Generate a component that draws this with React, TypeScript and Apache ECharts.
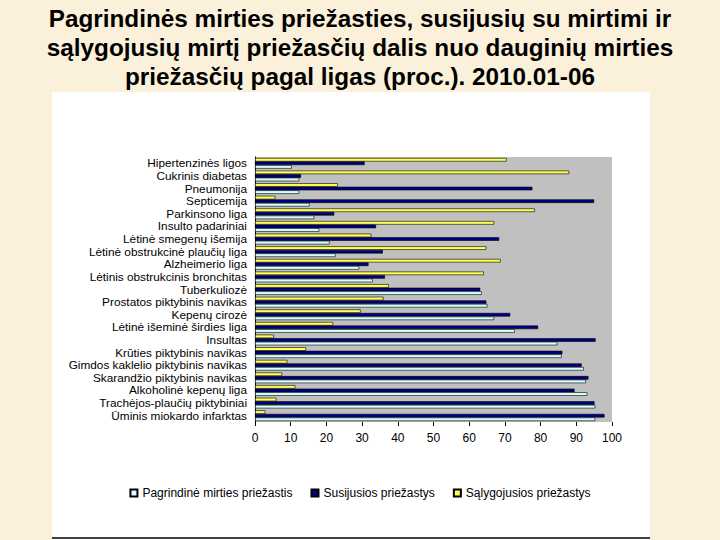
import React, { useEffect, useRef } from "react";
import * as echarts from "echarts";

const categories = [
  "Hipertenzinės ligos",
  "Cukrinis diabetas",
  "Pneumonija",
  "Septicemija",
  "Parkinsono liga",
  "Insulto padariniai",
  "Lėtinė smegenų išemija",
  "Lėtinė obstrukcinė plaučių liga",
  "Alzheimerio liga",
  "Lėtinis obstrukcinis bronchitas",
  "Tuberkuliozė",
  "Prostatos piktybinis navikas",
  "Kepenų cirozė",
  "Lėtinė išeminė širdies liga",
  "Insultas",
  "Krūties piktybinis navikas",
  "Gimdos kaklelio piktybinis navikas",
  "Skarandžio piktybinis navikas",
  "Alkoholinė kepenų liga",
  "Trachėjos-plaučių piktybiniai",
  "Ūminis miokardo infarktas",
];

const pagrindine = [10.3, 12.4, 12.4, 15.3, 16.6, 18, 20.9, 22.6, 29.2, 33, 63.5, 65.1, 67, 72.8, 84.7, 85.9, 92.1, 92.7, 93.1, 95.3, 95.3];
const susijusios = [30.7, 12.9, 77.7, 95, 22.2, 33.9, 68.4, 35.8, 31.8, 36.4, 63.1, 64.8, 71.5, 79.3, 95.4, 86.1, 91.5, 93.4, 89.5, 95.1, 97.9];
const salygojusios = [70.5, 88, 23.2, 5.7, 78.4, 67, 32.6, 64.8, 68.8, 64.1, 37.5, 36, 29.6, 21.9, 5.3, 14.3, 9.1, 7.6, 11.3, 6, 2.9];

const seriesNames = ["Pagrindinė mirties priežastis", "Susijusios priežastys", "Sąlygojusios priežastys"];

const titleText =
  "Pagrindinės mirties priežasties, susijusių su mirtimi ir\nsąlygojusių mirtį priežasčių dalis nuo dauginių mirties\npriežasčių pagal ligas (proc.). 2010.01-06";

export default function App() {
  const ref = useRef<HTMLDivElement>(null);
  useEffect(() => {
    if (!ref.current) return;
    const chart = echarts.init(ref.current, null, { renderer: "svg" });
    const font = "Liberation Sans, Arial, sans-serif";
    const barStyle = (color: string) => ({ color, borderColor: "#000", borderWidth: 0.6 });
    chart.setOption({
      animation: false,
      backgroundColor: "#FBF0D9",
      graphic: [
        { type: "rect", shape: { x: 52, y: 92, width: 598, height: 448 }, style: { fill: "#FFFFFF" }, z: -10 },
        { type: "line", shape: { x1: 52, y1: 538, x2: 650, y2: 538 }, style: { stroke: "#000", lineWidth: 1.5 }, z: -9 },
      ],
      title: {
        text: titleText,
        left: "center",
        top: -1,
        textStyle: { fontFamily: font, fontWeight: "bold", fontSize: 24.3, lineHeight: 29, color: "#000" },
      },
      legend: {
        data: seriesNames,
        left: "center",
        top: 482,
        itemWidth: 7,
        itemHeight: 7,
        itemGap: 18,
        icon: "rect",
        textStyle: { fontFamily: font, fontSize: 12, color: "#000" },
      },
      grid: {
        left: 255,
        right: 108,
        top: 157,
        bottom: 118,
        show: true,
        backgroundColor: "#C0C0C0",
        borderWidth: 0,
      },
      xAxis: {
        type: "value",
        min: 0,
        max: 100,
        interval: 10,
        splitLine: { show: false },
        axisLine: { show: false },
        axisTick: { show: true, length: 4, lineStyle: { color: "#000" } },
        axisLabel: { fontFamily: font, fontSize: 12, color: "#000", margin: 10 },
      },
      yAxis: {
        type: "category",
        data: categories,
        inverse: true,
        axisLine: { show: true, lineStyle: { color: "#000" } },
        axisTick: { show: false },
        axisLabel: { fontFamily: font, fontSize: 11.8, color: "#000", margin: 8, interval: 0 },
      },
      series: [
        { name: seriesNames[2], type: "bar", data: salygojusios, itemStyle: barStyle("#FFFF55"), barGap: "0%", barCategoryGap: "15%" },
        { name: seriesNames[1], type: "bar", data: susijusios, itemStyle: barStyle("#000080"), barGap: "0%", barCategoryGap: "15%" },
        { name: seriesNames[0], type: "bar", data: pagrindine, itemStyle: barStyle("#D8FFFF"), barGap: "0%", barCategoryGap: "15%" },
      ],
    });
    return () => chart.dispose();
  }, []);
  return <div ref={ref} style={{ position: "fixed", left: 0, top: 0, width: 720, height: 540 }} />;
}
